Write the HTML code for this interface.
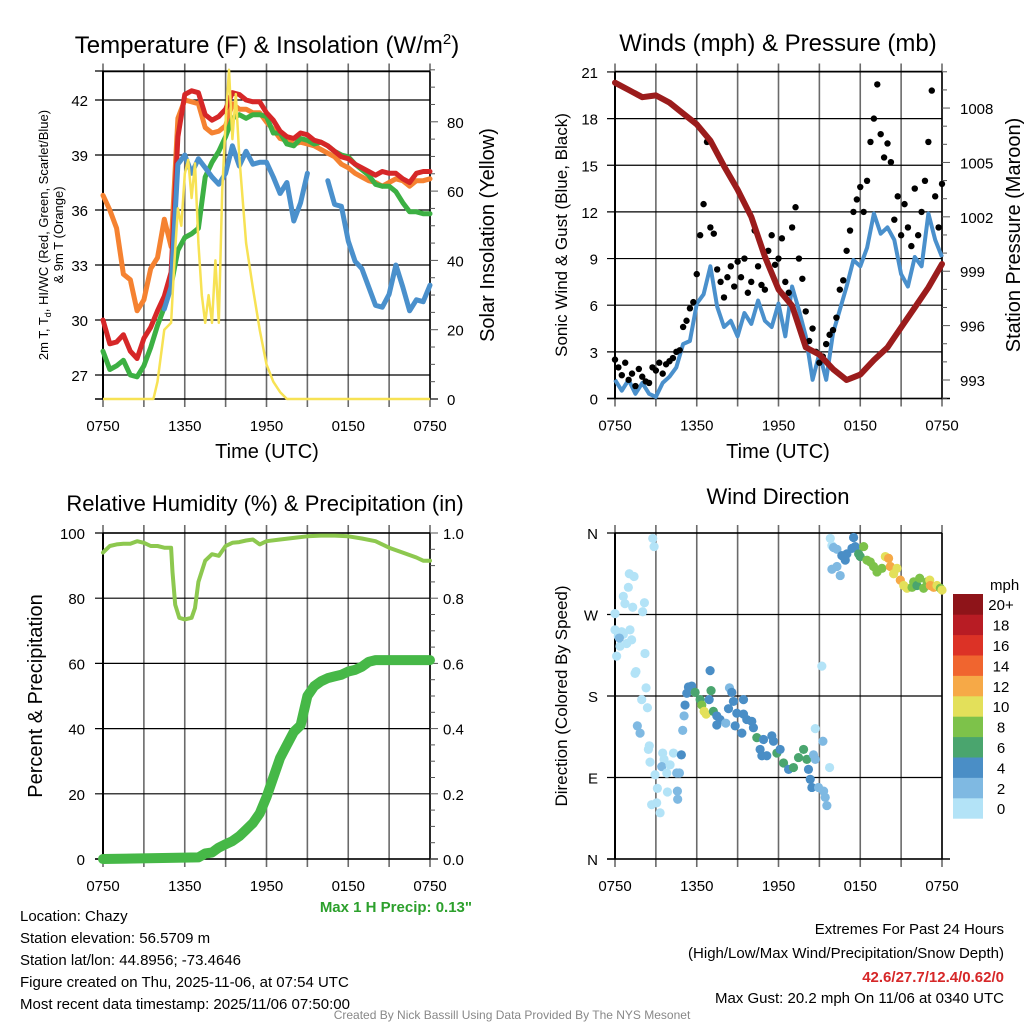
<!DOCTYPE html>
<html><head><meta charset="utf-8"><style>
body{margin:0;background:#fff}
svg{display:block;font-family:"Liberation Sans",sans-serif}
</style></head><body>
<svg id="c" width="1024" height="1024" viewBox="0 0 1024 1024">
<text x="267" y="53" font-size="24" text-anchor="middle">Temperature (F) &amp; Insolation (W/m<tspan dy="-9" font-size="15">2</tspan><tspan dy="9">)</tspan></text>
<text x="778" y="51" font-size="24" text-anchor="middle">Winds (mph) &amp; Pressure (mb)</text>
<text x="265" y="511" font-size="22" text-anchor="middle">Relative Humidity (%) &amp; Precipitation (in)</text>
<text x="778" y="504" font-size="22" text-anchor="middle">Wind Direction</text>
<text x="267" y="458" font-size="20" text-anchor="middle">Time (UTC)</text>
<text x="778" y="458" font-size="20" text-anchor="middle">Time (UTC)</text>
<text transform="translate(48,235) rotate(-90)" font-size="13" text-anchor="middle">2m T, T<tspan font-size="9" dy="3">d</tspan><tspan dy="-3">, HI/WC (Red, Green, Scarlet/Blue)</tspan></text>
<text transform="translate(63,235) rotate(-90)" font-size="13" text-anchor="middle">&amp; 9m T (Orange)</text>
<text transform="translate(494,235) rotate(-90)" font-size="20" text-anchor="middle">Solar Insolation (Yellow)</text>
<text transform="translate(567,235) rotate(-90)" font-size="17" text-anchor="middle">Sonic Wind &amp; Gust (Blue, Black)</text>
<text transform="translate(1020,235) rotate(-90)" font-size="20" text-anchor="middle">Station Pressure (Maroon)</text>
<text transform="translate(42,696) rotate(-90)" font-size="20" text-anchor="middle">Percent &amp; Precipitation</text>
<text transform="translate(567,696) rotate(-90)" font-size="17" text-anchor="middle">Direction (Colored By Speed)</text>
<text x="472" y="912" font-size="15" font-weight="bold" fill="#2ca02c" text-anchor="end">Max 1 H Precip: 0.13"</text>
<g font-size="15">
<text x="20" y="921">Location: Chazy</text>
<text x="20" y="943">Station elevation: 56.5709 m</text>
<text x="20" y="965">Station lat/lon: 44.8956; -73.4646</text>
<text x="20" y="987">Figure created on Thu, 2025-11-06, at 07:54 UTC</text>
<text x="20" y="1009">Most recent data timestamp: 2025/11/06 07:50:00</text>
</g>
<g font-size="15" text-anchor="end">
<text x="1004" y="934">Extremes For Past 24 Hours</text>
<text x="1004" y="958">(High/Low/Max Wind/Precipitation/Snow Depth)</text>
<text x="1004" y="982" font-weight="bold" fill="#d62728">42.6/27.7/12.4/0.62/0</text>
<text x="1004" y="1003">Max Gust: 20.2 mph On 11/06 at 0340 UTC</text>
</g>
<text x="512" y="1019" font-size="12" fill="#888" text-anchor="middle">Created By Nick Bassill Using Data Provided By The NYS Mesonet</text>
</svg>
<script>
// ---- data ----
const xTickLabels = ["0750","1350","1950","0150","0750"];
const halfHours = Array.from({length:49},(_,i)=>i*0.5);
const tempRed = [30.0,28.7,28.8,29.2,28.3,27.9,29.0,29.6,30.5,31.3,32.6,40.0,42.3,42.5,42.4,41.2,40.9,41.1,41.5,42.4,42.3,42.0,41.9,41.9,41.3,40.9,40.3,40.0,39.9,40.2,40.1,39.8,39.7,39.5,39.2,38.9,38.8,38.5,38.3,38.1,37.9,38.1,38.0,38.0,37.7,37.5,38.0,38.1,38.1];
const temp9mOrange = [36.8,36.0,35.0,32.5,32.2,30.5,31.1,32.8,33.4,35.5,34.0,41.0,42.0,41.9,41.8,40.5,40.2,40.3,40.6,41.8,41.5,41.5,41.3,41.3,40.8,40.4,39.9,39.8,39.6,39.7,39.6,39.5,39.3,39.1,38.9,38.5,38.3,38.0,37.8,37.6,37.5,37.3,37.5,37.7,37.6,37.3,37.6,37.6,37.7];
const dewGreen = [28.3,27.3,27.5,27.8,27.0,26.9,27.5,28.5,29.7,30.7,31.9,33.8,34.5,34.7,35.0,37.8,38.6,39.2,40.0,41.0,41.2,41.0,41.2,41.2,41.1,40.2,40.2,39.6,39.5,39.9,39.8,39.6,39.7,39.5,39.2,39.0,38.9,38.5,38.2,37.9,37.4,37.3,37.3,37.0,36.4,35.9,35.9,35.8,35.8];
const windChillBlue = [null,null,null,null,null,null,null,null,null,30.6,31.8,38.5,39.0,38.0,38.8,38.3,37.8,37.4,38.0,39.5,38.4,39.2,38.5,38.6,38.6,37.8,36.9,37.5,35.4,36.4,38.0,null,null,37.6,36.3,36.2,34.3,33.2,32.8,31.8,30.8,30.7,31.4,33.0,31.8,30.5,31.1,31.0,31.9];
const tempTicks = [27,30,33,36,39,42];
const solarHours = [0,3.7,4,4.5,5,5.25,5.5,5.75,6,6.25,6.5,6.75,7,7.25,7.5,7.75,8,8.25,8.5,8.75,9,9.25,9.5,9.75,10,10.5,11,11.5,12,12.5,13,13.5,24];
const solarValues = [0,0,5,20,22,40,55,50,65,69,58,68,45,30,22,30,22,40,22,60,80,95,75,88,70,45,32,20,10,5,2,0,0];
const solarTicks = [0,20,40,60,80];
const windSustained = [1.2,0.5,1.2,0.3,1.0,0.3,0.1,1.0,1.4,2.0,3.5,3.7,6.1,6.7,8.5,5.9,4.6,5.0,4.0,5.5,4.8,6.3,5.0,4.6,6.1,4.0,7.2,5.7,4.0,1.2,2.9,1.2,4.2,5.7,7.2,8.9,8.5,9.7,11.9,10.6,11.0,10.2,8.0,7.2,9.1,8.5,11.9,10.2,9.1];
const gustValues = [2.5,2.0,1.5,2.3,1.2,1.6,0.8,1.9,1.4,1.1,1.0,2.0,1.8,2.3,1.6,2.2,2.4,2.6,3.0,3.1,4.6,5.0,5.8,6.2,8.0,10.5,12.5,16.5,11.0,10.6,8.3,7.5,6.5,7.8,8.5,7.2,8.8,7.8,9.0,6.8,7.5,10.8,8.5,7.3,7.0,9.5,10.5,8.6,9.0,10.3,7.5,6.8,11.0,12.3,9.0,7.7,5.6,3.7,4.5,3.0,2.3,2.7,3.5,4.1,4.4,5.2,7.0,7.6,9.5,10.8,12.0,12.8,13.6,12.0,14.0,16.5,18.0,20.2,17.0,15.5,16.4,15.2,11.5,13.0,10.5,12.5,11.0,9.8,13.5,10.5,12.0,14.0,16.5,19.8,13.0,11.0,13.8];
const windTicks = [0,3,6,9,12,15,18,21];
const pressureValues = [1009.4,1009.0,1008.6,1008.7,1008.3,1007.7,1007.1,1006.2,1004.8,1003.5,1002.0,999.8,998.0,997.1,994.8,994.4,993.6,993.0,993.3,994.1,994.8,995.9,997.0,998.1,999.4];
const pressureTicks = [993,996,999,1002,1005,1008];
const rhHours = [0,0.5,1,1.5,2,2.5,3,3.5,4,4.5,5,5.1,5.3,5.6,6,6.5,6.75,7,7.5,8,8.5,9,9.5,10,10.5,11,11.5,12,13,14,15,16,17,18,19,20,21,22,23,23.5,24];
const rhValues = [94,96,96.5,96.7,96.7,97.5,97,96,96,95.5,95.5,88,78,74,73.5,74,77,85,91.5,93.5,93,96,97,97.2,97.7,98,96.5,97.5,98,98.5,99,99.2,99.2,99,98.3,97.5,95.5,94,92.5,91.5,91.5];
const precipHours = [0,7,7.5,8,8.5,9,9.5,10,10.5,11,11.5,12,12.5,13,13.5,14,14.5,15,15.5,16,16.5,17,17.5,18,18.5,19,19.5,20,24];
const precipValues = [0,0.005,0.017,0.02,0.035,0.045,0.055,0.07,0.09,0.11,0.14,0.19,0.25,0.31,0.35,0.39,0.41,0.5,0.53,0.545,0.555,0.56,0.565,0.575,0.58,0.59,0.605,0.61,0.61];
const rhTicks = [0,20,40,60,80,100];
const precipTicks = ["0.0","0.2","0.4","0.6","0.8","1.0"];
const dirHours = [0,0.12,0,0.24,0.49,0.61,0.86,1.1,1.22,0.37,0.32,0.98,1.05,1.4,0.61,0.73,1.3,2.03,2.16,2.2,1.47,1.54,1.96,2.28,2.38,1.64,1.84,2.52,2.45,2.57,2.77,2.87,3.5,3.6,2.94,3.11,3.31,3.06,2.69,3.43,3.8,4.04,3.85,4.29,4.53,4.73,4.6,4.58,4.87,4.97,5.07,5.14,5.27,5.39,5.63,5.88,6.25,6.37,6.54,6.69,6.98,7.05,6.91,7.22,7.47,7.71,7.47,8.13,8.33,8.4,8.57,8.69,8.94,8.82,9.31,9.43,9.43,9.67,10.04,10.16,10.41,10.65,10.9,10.78,11.14,11.51,11.63,11.88,12.12,12.37,12.74,13.1,13.47,13.84,14.08,14.2,14.33,14.45,14.57,14.7,14.7,14.94,15.31,15.55,15.43,15.18,15.26,15.75,15.8,15.92,16.04,16.29,15.92,16.29,16.53,16.65,16.9,17.02,17.51,17.39,17.63,17.88,18.0,18.25,18.49,18.74,18.98,19.23,19.59,19.84,20.08,20.21,20.45,20.7,20.94,21.19,21.43,21.8,21.92,22.16,22.36,22.65,22.9,23.1,23.14,23.39,23.63,23.88,24];
const dirDegrees = [253,224,271,246,251,248,238,253,242,235,244,300,315,312,290,282,278,273,283,227,205,207,176,189,167,147,139,125,121,107,354,345,117,110,93,78,51,62,60,102,95,104,74,117,95,95,66,75,115,142,158,170,183,190,191,184,176,170,163,160,208,186,176,163,158,154,148,150,166,189,184,174,161,147,139,176,160,154,152,145,134,121,132,114,114,136,130,117,121,106,99,101,112,121,110,99,88,79,115,110,144,79,75,59,68,213,130,101,354,346,344,342,320,323,313,335,330,337,355,343,345,337,334,345,330,328,323,317,321,334,332,323,315,321,308,302,299,300,306,302,310,299,306,308,302,300,302,299,297];
const dirSpeeds = [1,1,1,1,1,1,1,1,1,1,3,1,1,1,1,1,1,1,1,1,1,1,1,1,1,3,3,1,1,1,1,1,1,1,1,1,1,1,1,3,1,1,1,1,3,3,3,3,5,3,3,5,5,5,5,7,7,9,11,11,5,7,5,7,5,5,5,3,5,3,5,5,5,5,5,5,5,5,5,5,7,5,5,5,5,5,5,7,5,7,5,7,7,7,7,5,5,5,3,3,1,3,3,3,3,1,3,1,1,1,3,3,3,3,3,5,5,5,5,5,5,7,7,9,9,9,9,9,9,11,13,13,11,11,13,11,11,9,9,7,9,9,9,11,13,13,11,9,11,9];
const speedLabels = ["0","2","4","6","8","10","12","14","16","18","20+"];
const speedColors = ["#b3e3f7","#7fb9e2","#4a8ec6","#4aa56e","#7dc24a","#e3e05a","#f6a947","#f0652f","#dc3226","#b81c24","#8e1419"];
const dirLabels = ["N","E","S","W","N"];
const dirTicks = [0,90,180,270,360];

// ---- drawing ----
const NS="http://www.w3.org/2000/svg";
const svg=document.getElementById('c');
function el(tag,attrs,parent){const e=document.createElementNS(NS,tag);for(const k in attrs)e.setAttribute(k,attrs[k]);(parent||svg).appendChild(e);return e;}
function txt(x,y,s,anchor,size,parent){const t=el('text',{x:x,y:y,'font-size':size||14,'text-anchor':anchor||'middle'},parent);t.textContent=s;return t;}
function linePath(xs,ys,fx,fy){let d='',pen=false;for(let i=0;i<xs.length;i++){if(ys[i]===null||ys[i]===undefined){pen=false;continue;}d+=(pen?'L':'M')+fx(xs[i]).toFixed(1)+','+fy(ys[i]).toFixed(1);pen=true;}return d;}

function panelFrame(name,x0,x1,y0,y1,hLines,fy){
  const g=el('g',{});
  
  
  const fx=h=>x0+h*(x1-x0)/24;
  for(let i=0;i<=8;i++){const x=fx(i*3);el('line',{x1:x,y1:y0-8,x2:x,y2:y1+8,stroke:'#6a6a6a','stroke-width':1.6},g);}
  hLines.forEach(v=>{const y=fy(v);el('line',{x1:x0-8,y1:y,x2:x1,y2:y,stroke:'#000','stroke-width':1.2},g);});
  el('line',{x1:x0,y1:y0,x2:x1,y2:y0,stroke:'#000','stroke-width':1.5},g);
  el('line',{x1:x0-8,y1:y1,x2:x1+8,y2:y1,stroke:'#000','stroke-width':1.5},g);
  el('line',{x1:x0,y1:y0,x2:x0,y2:y1,stroke:'#000','stroke-width':2},g);
  el('line',{x1:x1,y1:y0,x2:x1,y2:y1,stroke:'#000','stroke-width':1.5},g);
  xTickLabels.forEach((s,i)=>{const t=txt(fx(i*6),y1+32,s,'middle',15,g);});
  return {g,fx};
}

// Panel 1: temperature
(function(){
  const yT=v=>100+(42-v)*55/3, yI=v=>399-v*3.465;
  const p=panelFrame('temperature-plot',103,430,71.5,399,tempTicks.concat([43.58]),yT);
  tempTicks.forEach(v=>{const t=txt(88,yT(v)+6,String(v),'end',15,p.g);});
  for(let v=0;v<=95;v+=5){const y=yI(v);el('line',{x1:430,y1:y,x2:v%20===0?438:435,y2:y,stroke:'#555','stroke-width':1},p.g);}
  solarTicks.forEach(v=>{const t=txt(447,yI(v)+6,String(v),'start',15,p.g);});
  const series=[['temp-9m-line',temp9mOrange,'#f58231'],['dewpoint-line',dewGreen,'#3cb043'],['temp-2m-line',tempRed,'#d62728'],['heat-index-windchill-line',windChillBlue,'#4a90cc']];
  series.forEach(s=>{const e=el('path',{d:linePath(halfHours,s[1],p.fx,yT),fill:'none',stroke:s[2],'stroke-width':5,'stroke-linejoin':'round','stroke-linecap':'round'},p.g);
    
    });
  const ys=el('path',{d:linePath(solarHours,solarValues,p.fx,yI),fill:'none',stroke:'#f7e254','stroke-width':2.5,'stroke-linejoin':'round'},p.g);
  
  
})();

// Panel 2: winds & pressure
(function(){
  const yW=v=>398.5-v*15.55, yP=v=>380-(v-993)*18.13;
  const p=panelFrame('winds-plot',615,942,71.5,398.5,windTicks,yW);
  windTicks.forEach(v=>{const t=txt(598,yW(v)+6,String(v),'end',15,p.g);});
  for(let v=992;v<=1010;v++){const y=yP(v);if(y<71||y>399)continue;el('line',{x1:942,y1:y,x2:(v%3===0)?950:947,y2:y,stroke:'#555','stroke-width':1},p.g);}
  pressureTicks.forEach(v=>{const t=txt(960,yP(v)+6,String(v),'start',15,p.g);});
  const wb=el('path',{d:linePath(halfHours,windSustained,p.fx,yW),fill:'none',stroke:'#4a90cc','stroke-width':4,'stroke-linejoin':'round'},p.g);
  
  
  gustValues.forEach((v,i)=>{const c=el('circle',{cx:p.fx(i*0.25),cy:yW(v),r:3.2,fill:'#000'},p.g);
    
    });
  const pr=el('path',{d:linePath(pressureValues.map((_,i)=>i),pressureValues,p.fx,yP),fill:'none',stroke:'#9b1c1c','stroke-width':6,'stroke-linejoin':'round','stroke-linecap':'round'},p.g);
  
  
})();

// Panel 3: RH & precip
(function(){
  const yR=v=>859-v*3.26, yPr=v=>859-v*326;
  const p=panelFrame('humidity-plot',103,430,533,859,rhTicks,yR);
  rhTicks.forEach(v=>{const t=txt(85,yR(v)+6,String(v),'end',15,p.g);});
  for(let v=0;v<=1.0001;v+=0.05){const y=yPr(v);el('line',{x1:430,y1:y,x2:(Math.round(v*100)%20===0)?438:435,y2:y,stroke:'#555','stroke-width':1},p.g);}
  precipTicks.forEach(s=>{const t=txt(443,yPr(parseFloat(s))+6,s,'start',15,p.g);});
  const rh=el('path',{d:linePath(rhHours,rhValues,p.fx,yR),fill:'none',stroke:'#8dc84f','stroke-width':4,'stroke-linejoin':'round','stroke-linecap':'round'},p.g);
  
  
  const pc=el('path',{d:linePath(precipHours,precipValues,p.fx,yPr),fill:'none',stroke:'#46b847','stroke-width':10,'stroke-linejoin':'round','stroke-linecap':'round'},p.g);
  
  
})();

// Panel 4: wind direction
(function(){
  const yD=v=>859-v*326/360;
  const p=panelFrame('wind-direction-plot',615,942,533,859,dirTicks,yD);
  dirTicks.forEach((v,i)=>{const t=txt(598,yD(v)+6,dirLabels[i],'end',15,p.g);});
  dirHours.forEach((h,i)=>{const idx=Math.min(10,Math.floor(dirSpeeds[i]/2));
    const c=el('circle',{cx:p.fx(h),cy:yD(dirDegrees[i]),r:4.6,fill:speedColors[idx]},p.g);
    
    });
  const lg=el('g',{});
  
  
  const t0=txt(990,590,'mph','start',15,lg);
  const bh=20.4;
  speedColors.forEach((c,i)=>{const y=594+(10-i)*bh;
    const r=el('rect',{x:953,y:y,width:30,height:bh+0.3,fill:c},lg);
    
    
    const t=txt(1001,y+bh/2+6,speedLabels[i],'middle',15,lg);
    
    });
})();
</script>
</body></html>
